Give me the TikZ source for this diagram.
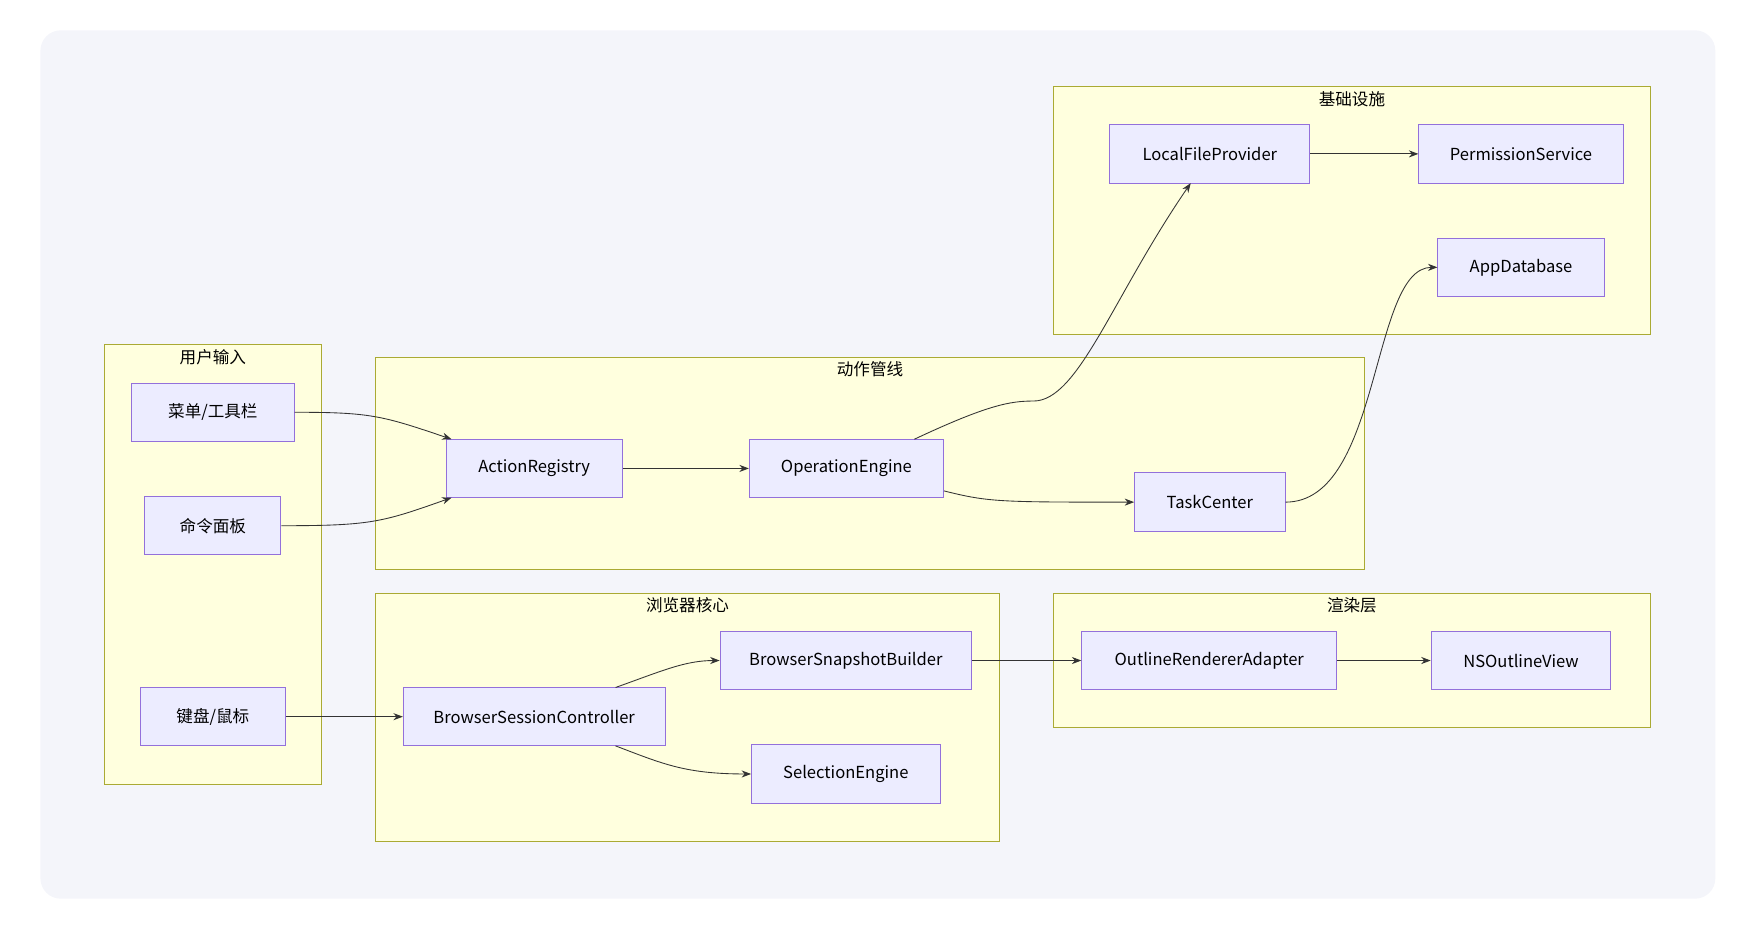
\documentclass[tikz,border=0pt]{standalone}
\usepackage{fontspec}
\setmainfont{Noto Sans CJK SC}
\usetikzlibrary{arrows.meta,positioning}
\definecolor{bgc}{HTML}{F4F5FA}
\definecolor{clf}{HTML}{FFFFDE}
\definecolor{cld}{HTML}{AAAA33}
\definecolor{ndf}{HTML}{ECECFF}
\definecolor{ndd}{HTML}{9370DB}
\definecolor{arr}{HTML}{333333}
\begin{document}
\begin{tikzpicture}[
    x=0.05cm, y=-0.05cm,
    box/.style={draw=ndd, fill=ndf, line width=1.1pt, minimum height=2.6cm, inner sep=0pt, font=\fontsize{21}{25}\selectfont},
    group/.style={draw=cld, fill=clf, line width=1.1pt},
    title/.style={font=\fontsize{21}{25}\selectfont, anchor=center},
    link/.style={-{Stealth[length=12pt,width=9pt]}, arr, line width=1.1pt},
]
\useasboundingbox (0,0) rectangle (1565,835);
\fill[bgc, rounded corners=0.9cm] (36,27) rectangle (1527,800);

% Groups
\draw[group] (93,307) rectangle (286,698);
\node[title] (tin) at (189.5,318) {用户输入};
\draw[group] (334,318) rectangle (1215,507);
\node[title] (tact) at (774.5,329) {动作管线};
\draw[group] (938,77) rectangle (1469,298);
\node[title] (tinf) at (1203.5,88) {基础设施};
\draw[group] (334,528) rectangle (890,749);
\node[title] (tbr) at (612,539) {浏览器核心};
\draw[group] (938,528) rectangle (1469,648);
\node[title] (tren) at (1203.5,539) {渲染层};

% Input
\node[box, minimum width=7.25cm] (menu) at (189.5,367) {菜单/工具栏};
\node[box, minimum width=6.05cm] (cmd) at (189.5,468) {命令面板};
\node[box, minimum width=6.45cm] (kb) at (189.5,638) {键盘/鼠标};

% Actions
\node[box, minimum width=7.85cm] (reg) at (475.5,417) {ActionRegistry};
\node[box, minimum width=8.65cm] (op) at (753.5,417) {OperationEngine};
\node[box, minimum width=6.7cm] (task) at (1077,447) {TaskCenter};

% Infrastructure
\node[box, minimum width=8.9cm] (lfp) at (1077,137) {LocalFileProvider};
\node[box, minimum width=9.1cm] (perm) at (1354,137) {PermissionService};
\node[box, minimum width=7.4cm] (db) at (1354,238) {AppDatabase};

% Browser core
\node[box, minimum width=11.65cm] (bsc) at (475.5,638) {BrowserSessionController};
\node[box, minimum width=11.2cm] (snap) at (753,588) {BrowserSnapshotBuilder};
\node[box, minimum width=8.4cm] (sel) at (753,689) {SelectionEngine};

% Rendering
\node[box, minimum width=11.35cm] (ora) at (1076.5,588) {OutlineRendererAdapter};
\node[box, minimum width=8cm] (nsov) at (1354,588) {NSOutlineView};

% Arrows
\draw[link] (menu.east) .. controls (330,367) and (340,370) .. (402,391);
\draw[link] (cmd.east) .. controls (330,468) and (340,465) .. (402,443);
\draw[link] (reg) -- (op);
\draw[link] (op.east |- 0,437) .. controls (880,447) and (890,447) .. (task.west);
\draw[link] (814,391) .. controls (880,360) and (900,357) .. (920,357) .. controls (960,357) and (990,265) .. (1060,163);
\draw[link] (lfp) -- (perm);
\draw[link] (task.east) .. controls (1230,447) and (1220,238) .. (db.west);
\draw[link] (kb) -- (bsc);
\draw[link] (548,612) .. controls (590,597) and (610,588) .. (snap.west);
\draw[link] (548,664) .. controls (590,680) and (610,689) .. (sel.west);
\draw[link] (snap) -- (ora);
\draw[link] (ora) -- (nsov);
\end{tikzpicture}
\end{document}
